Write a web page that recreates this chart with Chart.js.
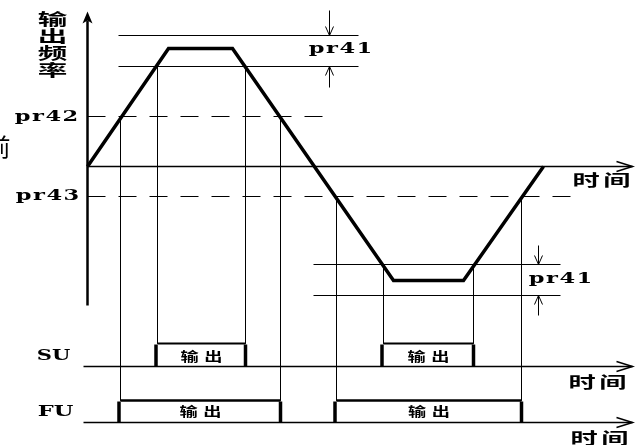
<!DOCTYPE html>
<html>
<head>
<meta charset="utf-8"/>
<title>输出频率 SU / FU</title>
<style>
    body { margin: 0; background: #fff; }
    #box { width: 637px; height: 445px; }
</style>
</head>
<body>
<div id="box"><canvas id="chart" width="637" height="445"></canvas></div>

<script src="https://cdn.jsdelivr.net/npm/chart.js"></script>
<script>
    // output frequency trace: time vs frequency, time axis sits at f = 0
    const traceTime = [0, 81, 145, 306, 376, 456];
    const traceFreq = [0, 118, 118, -114, -114, 0];

    // threshold levels
    const pr41Upper = [131, 100];
    const pr41Lower = [-98, -129];
    const pr42Level = 50;
    const pr43Level = -30;

    // output windows (switch on / off times)
    const suOn = [70, 296];
    const suOff = [158, 386];
    const fuOn = [33, 249];
    const fuOff = [193, 434];
    const suLevel = [pr41Upper[1], pr41Lower[0]];
    const fuLevel = [pr42Level, pr43Level];
    const suBase = -200, suTop = -177;
    const fuBase = -256, fuTop = -234;

    // texts
    const levelLabels = ['pr41', 'pr42', 'pr43'];
    const rowLabels = ['SU', 'FU'];
    const outLabel = '输出';
    const timeLabel = '时间';
    const freqLabel = '输出频率';

    // helper to make one black line dataset
    function seg(points, width, dash) {
        return {
            data: points,
            showLine: true,
            borderColor: '#000',
            borderWidth: width,
            borderDash: dash || [],
            pointRadius: 0,
            fill: false,
            tension: 0
        };
    }

    const datasets = [];
    const dash = [18, 13];

    // axes
    datasets.push(seg([{x: 0, y: -139}, {x: 0, y: 146}], 2.5));
    datasets.push(seg([{x: 0, y: 0}, {x: 545, y: 0}], 1.5));

    // pr41 band lines
    pr41Upper.forEach(v => datasets.push(seg([{x: 31, y: v}, {x: 271, y: v}], 1)));
    pr41Lower.forEach(v => datasets.push(seg([{x: 226, y: v}, {x: 473, y: v}], 1)));

    // pr42 / pr43 dashed
    datasets.push(seg([{x: 0, y: pr42Level}, {x: 236, y: pr42Level}], 1, dash));
    datasets.push(seg([{x: 0, y: pr43Level}, {x: 493, y: pr43Level}], 1, dash));

    // vertical guides down to the output boxes
    for (let i = 0; i < suOn.length; i++) {
        datasets.push(seg([{x: suOn[i], y: suLevel[i]}, {x: suOn[i], y: suTop}], 1));
        datasets.push(seg([{x: suOff[i], y: suLevel[i]}, {x: suOff[i], y: suTop}], 1));
        datasets.push(seg([{x: fuOn[i], y: fuLevel[i]}, {x: fuOn[i], y: fuTop}], 1));
        datasets.push(seg([{x: fuOff[i], y: fuLevel[i]}, {x: fuOff[i], y: fuTop}], 1));
    }

    // output boxes
    for (let i = 0; i < suOn.length; i++) {
        datasets.push(seg([{x: suOn[i], y: suTop}, {x: suOff[i], y: suTop}], 2));
        datasets.push(seg([{x: suOn[i] - 1.5, y: suBase}, {x: suOn[i] - 1.5, y: suTop - 1}], 3.5));
        datasets.push(seg([{x: suOff[i], y: suBase}, {x: suOff[i], y: suTop - 1}], 3.5));
        datasets.push(seg([{x: fuOn[i], y: fuTop}, {x: fuOff[i], y: fuTop}], 2.5));
        datasets.push(seg([{x: fuOn[i] - 1.5, y: fuBase}, {x: fuOn[i] - 1.5, y: fuTop - 1}], 3.5));
        datasets.push(seg([{x: fuOff[i], y: fuBase}, {x: fuOff[i], y: fuTop - 1}], 3.5));
    }

    // baselines
    datasets.push(seg([{x: -4, y: suBase}, {x: 545, y: suBase}], 1.5));
    datasets.push(seg([{x: -4, y: fuBase}, {x: 545, y: fuBase}], 1.5));

    // the frequency trace itself
    datasets.push(seg(traceTime.map((t, i) => ({x: t, y: traceFreq[i]})), 3.5));

    // arrows and all the text
    const diagramText = {
        id: 'diagramText',
        afterDatasetsDraw(chart) {
            const ctx = chart.ctx;
            const px = v => chart.scales.x.getPixelForValue(v);
            const py = v => chart.scales.y.getPixelForValue(v);
            ctx.save();
            ctx.strokeStyle = '#000';
            ctx.fillStyle = '#000';
            ctx.lineWidth = 1.5;

            function chevronRight(t, f) {
                ctx.beginPath();
                ctx.moveTo(px(t) - 16, py(f) - 5);
                ctx.lineTo(px(t), py(f));
                ctx.lineTo(px(t) - 16, py(f) + 5);
                ctx.stroke();
            }
            function stick(t, f1, f2) {
                // small arrow from f1 to f2
                const x0 = px(t), y1 = py(f1), y2 = py(f2);
                const d = y2 > y1 ? -1 : 1;
                ctx.lineWidth = 1;
                ctx.beginPath();
                ctx.moveTo(x0, y1);
                ctx.lineTo(x0, y2);
                ctx.moveTo(x0 - 4, y2 + d * 9);
                ctx.lineTo(x0, y2);
                ctx.lineTo(x0 + 4, y2 + d * 9);
                ctx.stroke();
            }

            // frequency axis head
            ctx.beginPath();
            ctx.moveTo(px(0), py(155));
            ctx.lineTo(px(0) - 5, py(143));
            ctx.lineTo(px(0), py(146));
            ctx.lineTo(px(0) + 5, py(143));
            ctx.closePath();
            ctx.fill();

            chevronRight(545, 0);
            chevronRight(545, suBase);
            chevronRight(545, fuBase);

            stick(242, 156, pr41Upper[0]);
            stick(242, 79, pr41Upper[1]);
            stick(451, -79, pr41Lower[0]);
            stick(451, -149, pr41Lower[1]);

            function text(str, t, f, font, sx, spacing) {
                ctx.save();
                ctx.font = font;
                ctx.letterSpacing = (spacing || 0) + 'px';
                ctx.textAlign = 'left';
                ctx.textBaseline = 'middle';
                const w = ctx.measureText(str).width - (spacing || 0);
                ctx.translate(px(t), py(f));
                ctx.scale(sx, 1);
                ctx.fillText(str, -w / 2, 0);
                ctx.restore();
            }

            const serif = 'bold 15px "DejaVu Serif"';
            const cjk = 'bold 16px "Noto Sans CJK SC"';
            const cjkSmall = 'bold 13px "Noto Sans CJK SC"';

            text(levelLabels[0], 253, 117, serif, 1.5, 1);
            text(levelLabels[0], 473, -113, serif, 1.5, 1);
            text(levelLabels[1], -41, 49, serif, 1.5, 1);
            text(levelLabels[2], -40, -30, serif, 1.5, 1);

            text(rowLabels[0], -34, -190, serif, 1.4, 0);
            text(rowLabels[1], -32, -246, serif, 1.5, 0);

            text(timeLabel, 514, -13, cjk, 1.7, 2);
            text(timeLabel, 510, -215, cjk, 1.7, 2);
            text(timeLabel, 512, -271, cjk, 1.7, 2);

            // cut-off character at the left edge
            text('前', -89, 20, '24px "Noto Sans CJK SC"', 1, 0);

            // vertical axis title, one char per row
            const rows = [148, 131, 114, 97];
            for (let i = 0; i < freqLabel.length; i++) {
                text(freqLabel[i], -35, rows[i], cjk, 1.85, 0);
            }

            for (let i = 0; i < suOn.length; i++) {
                text(outLabel, (suOn[i] + suOff[i]) / 2, -190, cjkSmall, 1.4, 4);
                text(outLabel, (fuOn[i] + fuOff[i]) / 2, -245, cjkSmall, 1.4, 4);
            }
            ctx.restore();
        }
    };

    new Chart(document.getElementById('chart'), {
        type: 'scatter',
        data: { datasets: datasets },
        options: {
            responsive: false,
            animation: false,
            layout: { padding: 0 },
            plugins: { legend: { display: false }, tooltip: { enabled: false } },
            scales: {
                x: { type: 'linear', min: -87.5, max: 549.5, display: false },
                y: { type: 'linear', min: -278.5, max: 166.5, display: false }
            }
        },
        plugins: [diagramText]
    });
</script>
</body>
</html>
